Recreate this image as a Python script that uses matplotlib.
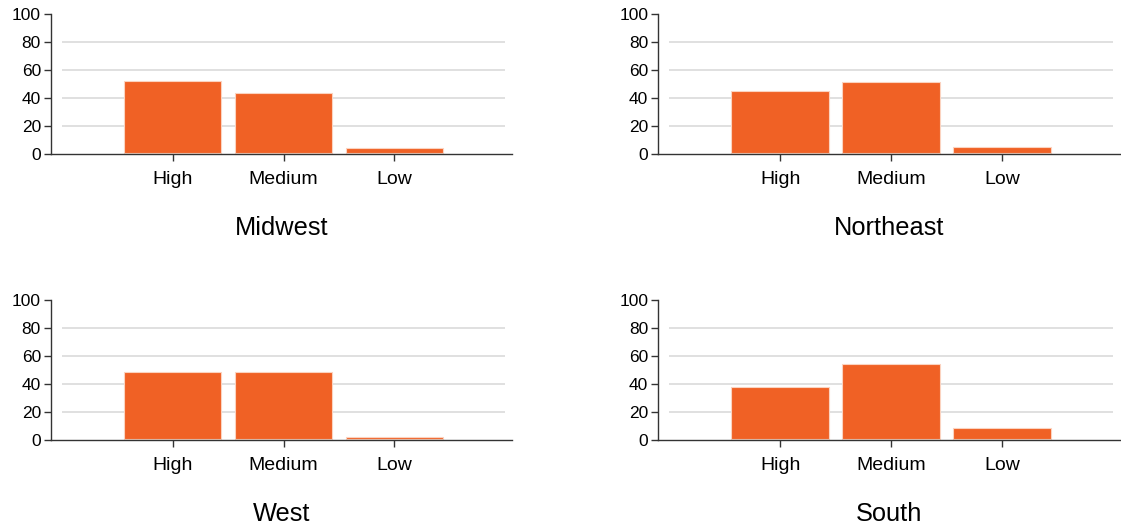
import numpy as np
import matplotlib
matplotlib.use('Agg')
from matplotlib import pyplot as plt

plt.rcParams['font.family'] = ['Liberation Sans', 'DejaVu Sans']

categories = ['High', 'Medium', 'Low']
regions = ['Midwest', 'Northeast', 'West', 'South']
midwest = [52, 43, 3.6]
northeast = [44.4, 50.6, 4.7]
west = [48.2, 48.2, 2.1]
south = [37.1, 53.7, 8.1]
values = [midwest, northeast, west, south]

bar_color = '#f06125'
# axes boxes in figure fractions [left, bottom, width, height]
boxes = [[0.0452, 0.7072, 0.4115, 0.2662],
         [0.5870, 0.7072, 0.4120, 0.2662],
         [0.0452, 0.1645, 0.4115, 0.2662],
         [0.5870, 0.1645, 0.4120, 0.2662]]

fig = plt.figure(figsize=(11.21, 5.27), dpi=100)
x = np.arange(len(categories))
for name, vals, box in zip(regions, values, boxes):
    ax = fig.add_axes(box)
    ax.hlines([20, 40, 60, 80], -1, 3, color='#dddddd', lw=1.3, zorder=0)
    ax.bar(x, vals, width=0.88, bottom=0.6, color=bar_color,
           edgecolor='#fbd3c0', linewidth=0.8, zorder=2)
    ax.set_xlim(-1.1, 3.06)
    ax.set_ylim(0, 100)
    ax.set_yticks([0, 20, 40, 60, 80, 100])
    ax.set_xticks(x, categories)
    for s in ['top', 'right']:
        ax.spines[s].set_visible(False)
    for s in ['left', 'bottom']:
        ax.spines[s].set_color('#333333')
        ax.spines[s].set_linewidth(1.0)
    ax.tick_params(axis='both', length=5, width=1, color='#333333',
                   labelsize=12.5, pad=2)
    ax.tick_params(axis='x', pad=7, labelsize=14)
    ax.set_xlabel(name, fontsize=18.3, labelpad=20)

plt.savefig('out.png', dpi=100)
